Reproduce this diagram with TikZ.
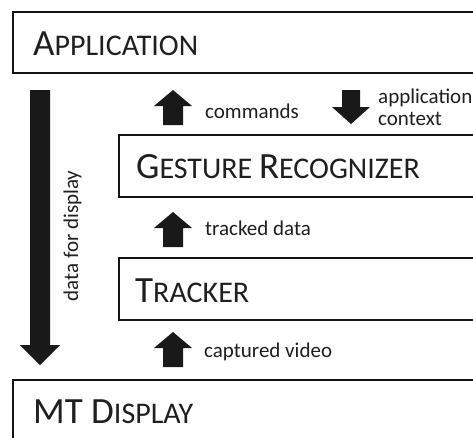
\documentclass[tikz,border=0pt]{standalone}
\usepackage{fontspec}
\setmainfont{Carlito}
\newcommand{\capbig}[1]{{\fontsize{37}{38}\selectfont #1}}
\newcommand{\capsmall}[1]{{\fontsize{30}{31}\selectfont #1}}
\begin{document}
\begin{tikzpicture}[x=1pt,y=-1pt,
  layer/.style={draw=black!92,line width=2.4pt,fill=white},
  title/.style={anchor=base west,inner sep=0pt,text=black!88},
  note/.style={anchor=base west,inner sep=0pt,font=\fontsize{21}{22}\selectfont,text=black!88},
  uparr/.pic={\fill[black!90] (0,0) -- (19,16) -- (10,16) -- (10,35) -- (-10,35) -- (-10,16) -- (-19,16) -- cycle;},
  downarr/.pic={\fill[black!90] (0,0) -- (19,-17) -- (9,-17) -- (9,-34) -- (-9,-34) -- (-9,-17) -- (-19,-17) -- cycle;}
]
% canvas
\fill[white] (0,0) rectangle (473,437);
\useasboundingbox (0,0) rectangle (473,437);
\clip (0,0) rectangle (473,437);

% layers (they run off the right and bottom edge)
\draw[layer] (13,12) rectangle (495,73);
\node[title] (app) at (33,55) {\capbig{A}\capsmall{PPLICATION}};

\draw[layer] (119,135) rectangle (495,197);
\node[title] (gr) at (136,178) {\capbig{G}\capsmall{ESTURE }\capbig{R}\capsmall{ECOGNIZER}};

\draw[layer] (119,258) rectangle (495,320);
\node[title] (tr) at (135,302) {\capbig{T}\capsmall{RACKER}};

\draw[layer] (13,380) rectangle (495,460);
\node[title] (mt) at (33,423) {\capbig{MT D}\capsmall{ISPLAY}};

% flows between layers
\coordinate (cmd) at (173,90);
\pic at (cmd) {uparr};
\node[note] (cmdl) at (205,118) {commands};

\coordinate (ctx) at (351,124);
\pic at (ctx) {downarr};
\node[note] (ctxl1) at (378,103) {application};
\node[note] (ctxl2) at (378,125) {context};

\coordinate (trk) at (173,212);
\pic at (trk) {uparr};
\node[note] (trkl) at (205,235) {tracked data};

\coordinate (cap) at (173,332);
\pic at (cap) {uparr};
\node[note] (capl) at (204,357) {captured video};

% data for display, straight down to the display
\fill[black!90] (30,90) -- (50,90) -- (50,345) -- (60,345) -- (40,365) -- (20,345) -- (30,345) -- cycle;
\node[inner sep=0pt,anchor=base,rotate=90,font=\fontsize{21}{22}\selectfont,text=black!88] (dfd) at (78,236) {data for display};
\end{tikzpicture}
\end{document}
